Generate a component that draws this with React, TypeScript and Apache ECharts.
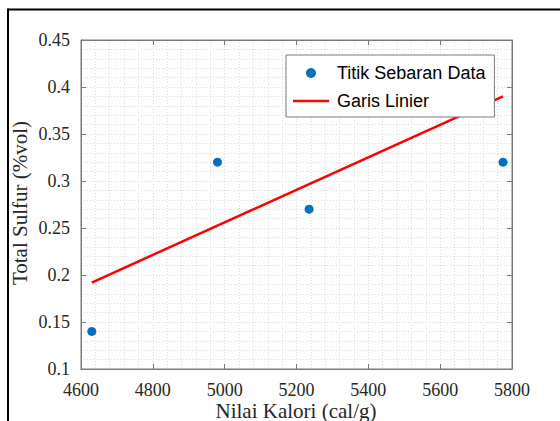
import React, { useEffect, useRef } from "react";
import * as echarts from "echarts";

const xTicks = [4600, 4800, 5000, 5200, 5400, 5600, 5800];
const yTicks = [0.1, 0.15, 0.2, 0.25, 0.3, 0.35, 0.4, 0.45];
const kalori = [4630, 4980, 5235, 5775];
const sulfur = [0.14, 0.32, 0.27, 0.32];
const lineX = [4630, 5775];
const lineY = [0.192, 0.39];
const seriesNames = ["Titik Sebaran Data", "Garis Linier"];
const xTitle = "Nilai Kalori (cal/g)";
const yTitle = "Total Sulfur (%vol)";

const AXIS = "#7a7a7a";
const GRIDC = "#dcdcdc";
const SERIF = "'Liberation Serif', 'Times New Roman', serif";
const SANS = "'Liberation Sans', Arial, sans-serif";

export default function App() {
  const ref = useRef<HTMLDivElement>(null);
  useEffect(() => {
    if (!ref.current) return;
    const chart = echarts.init(ref.current, undefined, { renderer: "svg" });
    const baseX = {
      type: "value" as const,
      min: xTicks[0],
      max: xTicks[xTicks.length - 1],
      interval: xTicks[1] - xTicks[0],
    };
    const baseY = {
      type: "value" as const,
      min: yTicks[0],
      max: yTicks[yTicks.length - 1],
      interval: 0.05,
    };
    chart.setOption({
      animation: false,
      grid: {
        left: 81,
        top: 40,
        width: 431,
        height: 329,
        show: true,
        borderColor: AXIS,
        borderWidth: 1,
        backgroundColor: "#fff",
      },
      xAxis: [
        {
          ...baseX,
          position: "bottom",
          axisLine: { show: true, lineStyle: { color: AXIS, width: 1 } },
          axisTick: { show: true, inside: true, length: 5, lineStyle: { color: AXIS } },
          axisLabel: {
            show: true,
            margin: 12,
            fontFamily: SERIF,
            fontSize: 18,
            color: "#262626",
            formatter: (v: number) => String(v),
          },
          splitLine: { show: true, lineStyle: { color: GRIDC, type: [1, 2], width: 1 } },
          minorTick: { show: false, splitNumber: 5 },
          minorSplitLine: { show: true, lineStyle: { color: GRIDC, type: [1, 2], width: 1 } },
        },
        {
          ...baseX,
          position: "top",
          axisLine: { show: true, lineStyle: { color: AXIS, width: 1 } },
          axisTick: { show: true, inside: true, length: 5, lineStyle: { color: AXIS } },
          axisLabel: { show: false },
          splitLine: { show: false },
        },
      ],
      yAxis: [
        {
          ...baseY,
          position: "left",
          axisLine: { show: true, lineStyle: { color: AXIS, width: 1 } },
          axisTick: { show: true, inside: true, length: 5, lineStyle: { color: AXIS } },
          axisLabel: {
            show: true,
            margin: 11,
            fontFamily: SERIF,
            fontSize: 18,
            color: "#262626",
          },
          splitLine: { show: true, lineStyle: { color: GRIDC, type: [1, 2], width: 1 } },
          minorTick: { show: false, splitNumber: 5 },
          minorSplitLine: { show: true, lineStyle: { color: GRIDC, type: [1, 2], width: 1 } },
        },
        {
          ...baseY,
          position: "right",
          axisLine: { show: true, lineStyle: { color: AXIS, width: 1 } },
          axisTick: { show: true, inside: true, length: 5, lineStyle: { color: AXIS } },
          axisLabel: { show: false },
          splitLine: { show: false },
        },
      ],
      legend: {
        left: 286,
        top: 55,
        orient: "vertical",
        padding: [9, 9, 7, 7],
        itemGap: 10,
        itemWidth: 36,
        itemHeight: 10,
        backgroundColor: "#fff",
        borderColor: AXIS,
        borderWidth: 1,
        borderRadius: 0,
        itemStyle: { opacity: 1 },
        textStyle: {
          fontFamily: SANS,
          fontSize: 18,
          color: "#000",
          lineHeight: 18,
          padding: [0, 0, 0, 3],
        },
        data: [
          { name: seriesNames[0], icon: "circle", itemStyle: { color: "#0072BD", opacity: 1 } },
          { name: seriesNames[1], icon: "path://M0 0H36V2.5H0Z" },
        ],
      },
      series: [
        {
          name: seriesNames[0],
          type: "scatter",
          xAxisIndex: 0,
          yAxisIndex: 0,
          symbol: "circle",
          symbolSize: 9,
          itemStyle: { color: "#0072BD", opacity: 1 },
          data: kalori.map((x, i) => [x, sulfur[i]]),
          z: 3,
        },
        {
          name: seriesNames[1],
          type: "line",
          xAxisIndex: 0,
          yAxisIndex: 0,
          symbol: "none",
          showSymbol: false,
          lineStyle: { color: "#FF0000", width: 2.5 },
          itemStyle: { color: "#FF0000" },
          data: lineX.map((x, i) => [x, lineY[i]]),
          z: 2,
        },
      ],
      graphic: [
        {
          type: "text",
          x: 296,
          y: 421,
          style: {
            text: xTitle,
            font: `21px ${SERIF}`,
            fill: "#262626",
            textAlign: "center",
            textVerticalAlign: "bottom",
          },
        },
        {
          type: "text",
          x: 20,
          y: 203,
          rotation: Math.PI / 2,
          style: {
            text: yTitle,
            font: `21px ${SERIF}`,
            fill: "#262626",
            textAlign: "center",
            textVerticalAlign: "middle",
          },
        },
        {
          type: "line",
          shape: { x1: 8, y1: 9.5, x2: 560, y2: 9.5 },
          style: { stroke: "#000", lineWidth: 2 },
        },
        {
          type: "line",
          shape: { x1: 8, y1: 8.5, x2: 8, y2: 421 },
          style: { stroke: "#000", lineWidth: 2 },
        },
      ],
    });
    return () => chart.dispose();
  }, []);
  return (
    <div
      ref={ref}
      style={{ position: "fixed", left: 0, top: 0, width: 560, height: 421, background: "#fff" }}
    />
  );
}
